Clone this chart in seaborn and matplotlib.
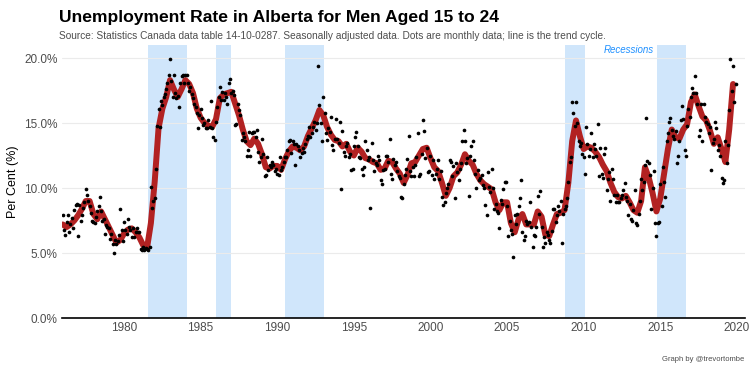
import numpy as np
import pandas as pd
import matplotlib
matplotlib.use("Agg")
import matplotlib.pyplot as plt
import seaborn as sns

# --- data ---
years = list(range(1976, 2020))

# monthly values (Jan..Dec), one row per year
monthly = [
    [7.9, 6.8, 6.4, 7.4, 7.9, 6.6, 7.2, 7.7, 6.9, 8.3, 8.7, 8.8],      # 1976
    [6.3, 8.7, 7.5, 7.9, 8.5, 8.9, 9.9, 9.5, 9.0, 8.6, 8.1, 7.5],      # 1977
    [7.4, 7.3, 7.8, 8.2, 8.6, 9.3, 8.2, 7.5, 7.6, 6.5, 7.15, 7.0],     # 1978
    [6.9, 6.1, 6.5, 5.7, 5.0, 6.0, 5.7, 5.9, 6.4, 8.4, 6.8, 5.9],      # 1979
    [7.4, 6.8, 6.5, 7.6, 7.0, 6.8, 6.25, 6.9, 6.25, 6.6, 6.9, 6.6],    # 1980
    [6.6, 5.3, 5.2, 5.5, 5.2, 5.4, 5.3, 5.2, 5.5, 10.1, 8.5, 9.0],     # 1981
    [9.2, 11.5, 14.8, 16.1, 14.7, 16.7, 16.4, 17.0, 17.2, 17.6, 18.1, 18.7],  # 1982
    [19.9, 18.2, 17.0, 18.7, 17.3, 16.9, 17.1, 16.2, 18.1, 18.6, 18.7, 18.1],  # 1983
    [18.7, 18.7, 18.1, 17.5, 17.8, 17.2, 16.9, 16.5, 16.2, 15.8, 14.6, 15.6],  # 1984
    [16.1, 15.4, 14.85, 15.0, 14.6, 14.6, 15.2, 14.7, 16.7, 14.6, 13.9, 13.7],  # 1985
    [15.1, 16.2, 17.0, 17.8, 16.8, 17.4, 16.8, 17.3, 17.0, 16.5, 18.05, 18.4],  # 1986
    [17.3, 17.5, 17.15, 14.85, 14.9, 16.5, 16.0, 15.6, 13.7, 14.2, 13.9, 13.6],  # 1987
    [12.5, 12.9, 14.3, 12.5, 14.2, 14.3, 14.3, 13.9, 14.5, 12.8, 12.0, 12.4],  # 1988
    [13.8, 12.6, 10.9, 11.0, 12.4, 11.4, 11.8, 11.6, 12.0, 11.8, 11.3, 11.5],  # 1989
    [11.1, 11.0, 12.4, 11.4, 11.6, 12.0, 12.4, 12.4, 12.9, 13.6, 13.7, 12.7],  # 1990
    [13.6, 13.4, 11.8, 13.4, 13.2, 12.9, 12.4, 12.7, 13.1, 12.8, 13.4, 13.8],  # 1991
    [14.0, 14.7, 13.9, 14.2, 14.7, 15.1, 14.5, 15.0, 19.4, 16.4, 15.0, 13.6],  # 1992
    [17.0, 15.8, 14.2, 13.7, 14.6, 14.3, 15.5, 13.3, 12.9, 13.8, 15.3, 13.8],  # 1993
    [13.5, 15.1, 9.9, 14.4, 12.8, 12.5, 13.2, 13.5, 12.4, 12.6, 11.4, 11.5],   # 1994
    [13.2, 13.9, 14.3, 13.2, 12.4, 12.3, 11.5, 11.0, 11.6, 13.6, 12.9, 12.15],  # 1995
    [12.4, 8.5, 13.5, 12.15, 11.3, 11.9, 11.8, 12.5, 12.15, 10.6, 10.3, 11.4],  # 1996
    [11.5, 12.5, 12.5, 12.0, 13.8, 11.1, 10.7, 12.2, 11.8, 12.0, 11.3, 10.9],  # 1997
    [10.8, 9.3, 9.2, 10.3, 11.0, 11.5, 12.2, 14.0, 11.3, 10.9, 11.6, 10.9],    # 1998
    [11.8, 12.4, 14.2, 10.9, 11.05, 12.6, 15.2, 14.4, 12.3, 13.1, 11.2, 11.3],  # 1999
    [12.5, 11.0, 12.15, 10.7, 11.1, 11.5, 12.15, 10.7, 11.3, 9.3, 8.7, 8.95],  # 2000
    [9.6, 10.0, 10.3, 12.15, 12.0, 10.9, 11.7, 9.2, 11.9, 11.2, 10.6, 11.5],   # 2001
    [11.9, 13.6, 14.5, 13.6, 11.9, 12.3, 9.4, 12.5, 13.2, 13.6, 12.15, 11.1],  # 2002
    [10.0, 11.4, 10.6, 10.8, 11.0, 10.2, 10.0, 8.7, 7.9, 11.2, 10.1, 9.7],     # 2003
    [11.5, 10.0, 8.4, 8.8, 8.2, 8.1, 6.9, 9.1, 8.8, 9.9, 10.5, 10.5],          # 2004
    [8.6, 6.3, 7.5, 6.8, 6.5, 4.7, 7.9, 7.2, 8.0, 8.6, 9.2, 10.6],             # 2005
    [6.6, 6.0, 6.3, 7.5, 7.2, 7.4, 8.95, 7.0, 5.5, 6.4, 6.3, 7.0],             # 2006
    [9.4, 8.0, 9.8, 7.0, 5.5, 6.2, 5.8, 6.6, 6.4, 6.0, 5.8, 6.7],              # 2007
    [8.4, 8.4, 7.4, 7.9, 8.6, 8.2, 9.0, 5.8, 8.0, 8.4, 8.6, 9.2],              # 2008
    [10.5, 12.0, 12.4, 16.6, 15.8, 14.8, 16.6, 15.0, 13.6, 13.2, 13.5, 12.6],  # 2009
    [12.4, 11.1, 14.7, 13.4, 12.5, 13.0, 14.2, 12.4, 13.4, 13.0, 12.5, 14.9],  # 2010
    [10.9, 13.1, 11.1, 10.8, 12.6, 13.05, 9.85, 10.7, 11.2, 9.0, 11.5, 10.7],  # 2011
    [9.5, 8.95, 9.5, 8.95, 8.95, 9.2, 9.5, 9.85, 10.4, 9.3, 9.0, 7.9],         # 2012
    [8.8, 7.6, 7.5, 8.3, 9.85, 7.3, 7.15, 8.0, 9.0, 10.7, 9.85, 10.5],         # 2013
    [11.8, 15.4, 12.1, 11.9, 11.0, 8.4, 10.0, 11.3, 7.3, 6.3, 7.3, 7.4],       # 2014
    [10.3, 8.6, 11.6, 10.5, 9.3, 13.6, 14.2, 15.1, 15.4, 14.5, 14.0, 13.8],    # 2015
    [14.4, 11.9, 12.5, 13.6, 15.2, 16.3, 15.3, 12.9, 12.5, 14.8, 16.1, 15.5],  # 2016
    [17.0, 17.7, 17.3, 18.6, 17.3, 16.5, 14.0, 14.5, 16.5, 13.6, 16.5, 15.5],  # 2017
    [15.1, 14.9, 14.2, 14.7, 11.4, 13.5, 13.8, 15.1, 14.6, 12.9, 13.3, 12.5],  # 2018
    [10.8, 10.4, 10.6, 13.6, 11.9, 13.3, 16.0, 19.9, 17.5, 19.4, 16.6, 18.0],  # 2019
]

# trend cycle, quarterly (Q1..Q4), one row per year
trend_q = [
    [7.2, 7.0, 7.2, 7.5],      # 1976
    [7.9, 8.4, 9.0, 9.0],      # 1977
    [8.0, 7.6, 8.2, 7.6],      # 1978
    [7.0, 6.4, 5.8, 6.0],      # 1979
    [6.5, 6.8, 6.9, 6.6],      # 1980
    [6.2, 5.6, 5.4, 7.3],      # 1981
    [10.5, 14.6, 16.1, 17.0],  # 1982
    [18.3, 17.6, 17.0, 17.6],  # 1983
    [18.3, 18.0, 17.3, 16.1],  # 1984
    [15.4, 15.0, 14.8, 14.7],  # 1985
    [15.3, 16.9, 17.2, 17.3],  # 1986
    [17.4, 16.5, 15.6, 14.5],  # 1987
    [13.6, 13.3, 13.8, 13.4],  # 1988
    [12.6, 11.6, 11.5, 11.7],  # 1989
    [11.7, 11.4, 12.2, 12.8],  # 1990
    [13.2, 13.1, 12.9, 13.2],  # 1991
    [14.0, 14.6, 15.2, 16.0],  # 1992
    [15.6, 14.7, 14.1, 13.7],  # 1993
    [13.6, 13.2, 13.4, 12.8],  # 1994
    [12.5, 13.1, 12.8, 12.3],  # 1995
    [12.2, 12.0, 11.9, 11.4],  # 1996
    [11.5, 12.1, 12.0, 11.5],  # 1997
    [11.1, 10.4, 11.0, 11.9],  # 1998
    [12.0, 12.5, 13.0, 13.1],  # 1999
    [12.3, 11.6, 11.3, 10.4],  # 2000
    [9.4, 10.0, 10.9, 11.2],   # 2001
    [11.8, 12.6, 12.1, 11.8],  # 2002
    [11.1, 10.6, 10.3, 10.1],  # 2003
    [9.9, 8.9, 8.3, 8.9],      # 2004
    [8.9, 7.3, 6.6, 7.6],      # 2005
    [8.0, 7.2, 7.2, 7.2],      # 2006
    [8.2, 7.8, 6.4, 6.3],      # 2007
    [7.2, 8.0, 8.1, 8.3],      # 2008
    [10.4, 13.6, 15.2, 14.0],  # 2009
    [13.0, 13.2, 13.1, 12.8],  # 2010
    [12.4, 11.8, 11.3, 10.4],  # 2011
    [9.7, 9.3, 9.2, 9.4],      # 2012
    [8.9, 8.3, 8.1, 9.0],      # 2013
    [11.6, 10.8, 9.6, 8.2],    # 2014
    [9.2, 11.1, 13.0, 14.5],   # 2015
    [13.9, 13.8, 14.5, 14.9],  # 2016
    [16.6, 17.2, 16.3, 15.5],  # 2017
    [15.2, 14.4, 13.4, 13.9],  # 2018
    [13.0, 12.0, 14.5, 18.0],  # 2019
]

# recession periods (decimal years)
rec_start = [1981.58, 1986.0, 1990.5, 2008.75, 2014.8]
rec_end = [1984.1, 1987.0, 1993.08, 2010.1, 2016.7]

yticks = [0, 5, 10, 15, 20]
xticks = [1980, 1985, 1990, 1995, 2000, 2005, 2010, 2015, 2020]

# --- build frames ---
dots = pd.DataFrame({
    "date": [y + m / 12 for y in years for m in range(12)],
    "rate": [v for row in monthly for v in row],
})
trend = pd.DataFrame({
    "date": [y + q / 4 for y in years for q in range(4)],
    "rate": [v for row in trend_q for v in row],
})

# --- plot ---
sns.set_theme(style="whitegrid")
plt.rcParams["font.family"] = ["Liberation Sans", "DejaVu Sans"]

fig = plt.figure(figsize=(7.5, 3.72), dpi=100)
ax = fig.add_axes([0.0827, 0.145, 0.91, 0.734])

for s, e in zip(rec_start, rec_end):
    ax.axvspan(s, e, color="#d0e6fb", lw=0, zorder=0)

sns.lineplot(data=trend, x="date", y="rate", ax=ax, color="#b22222",
             lw=4.3, solid_capstyle="round", zorder=2)
sns.scatterplot(data=dots, x="date", y="rate", ax=ax, color="black",
                s=7, linewidth=0, zorder=3)

ax.set_xlim(1975.95, 2020.5)
ax.set_ylim(0, 21)
ax.set_yticks(yticks)
ax.set_yticklabels([f"{v:.1f}%" for v in yticks])
ax.set_xticks(xticks)
ax.tick_params(axis="both", labelsize=8.5, colors="#4d4d4d", length=0, pad=3)
ax.grid(axis="x", visible=False)
ax.grid(axis="y", color="#ebebeb", lw=0.8)
for side in ["top", "right", "left"]:
    ax.spines[side].set_visible(False)
ax.spines["bottom"].set_color("black")
ax.spines["bottom"].set_linewidth(1.2)
ax.set_xlabel("")
ax.set_ylabel("Per Cent (%)", fontsize=9, color="black")

ax.text(rec_start[-1] - 0.25, 20.6, "Recessions", ha="right", va="center",
        fontsize=7, style="italic", color="#1e90ff")

fig.text(0.079, 0.94, "Unemployment Rate in Alberta for Men Aged 15 to 24",
         fontsize=12.6, fontweight="bold", color="black", ha="left", va="baseline")
fig.text(0.079, 0.895, "Source: Statistics Canada data table 14-10-0287. Seasonally adjusted data. "
         "Dots are monthly data; line is the trend cycle.",
         fontsize=7.3, color="#4d4d4d", ha="left", va="baseline")
fig.text(0.993, 0.03, "Graph by @trevortombe", fontsize=5.5, color="#4d4d4d",
         ha="right", va="baseline")

plt.savefig("out.png", dpi=100)
